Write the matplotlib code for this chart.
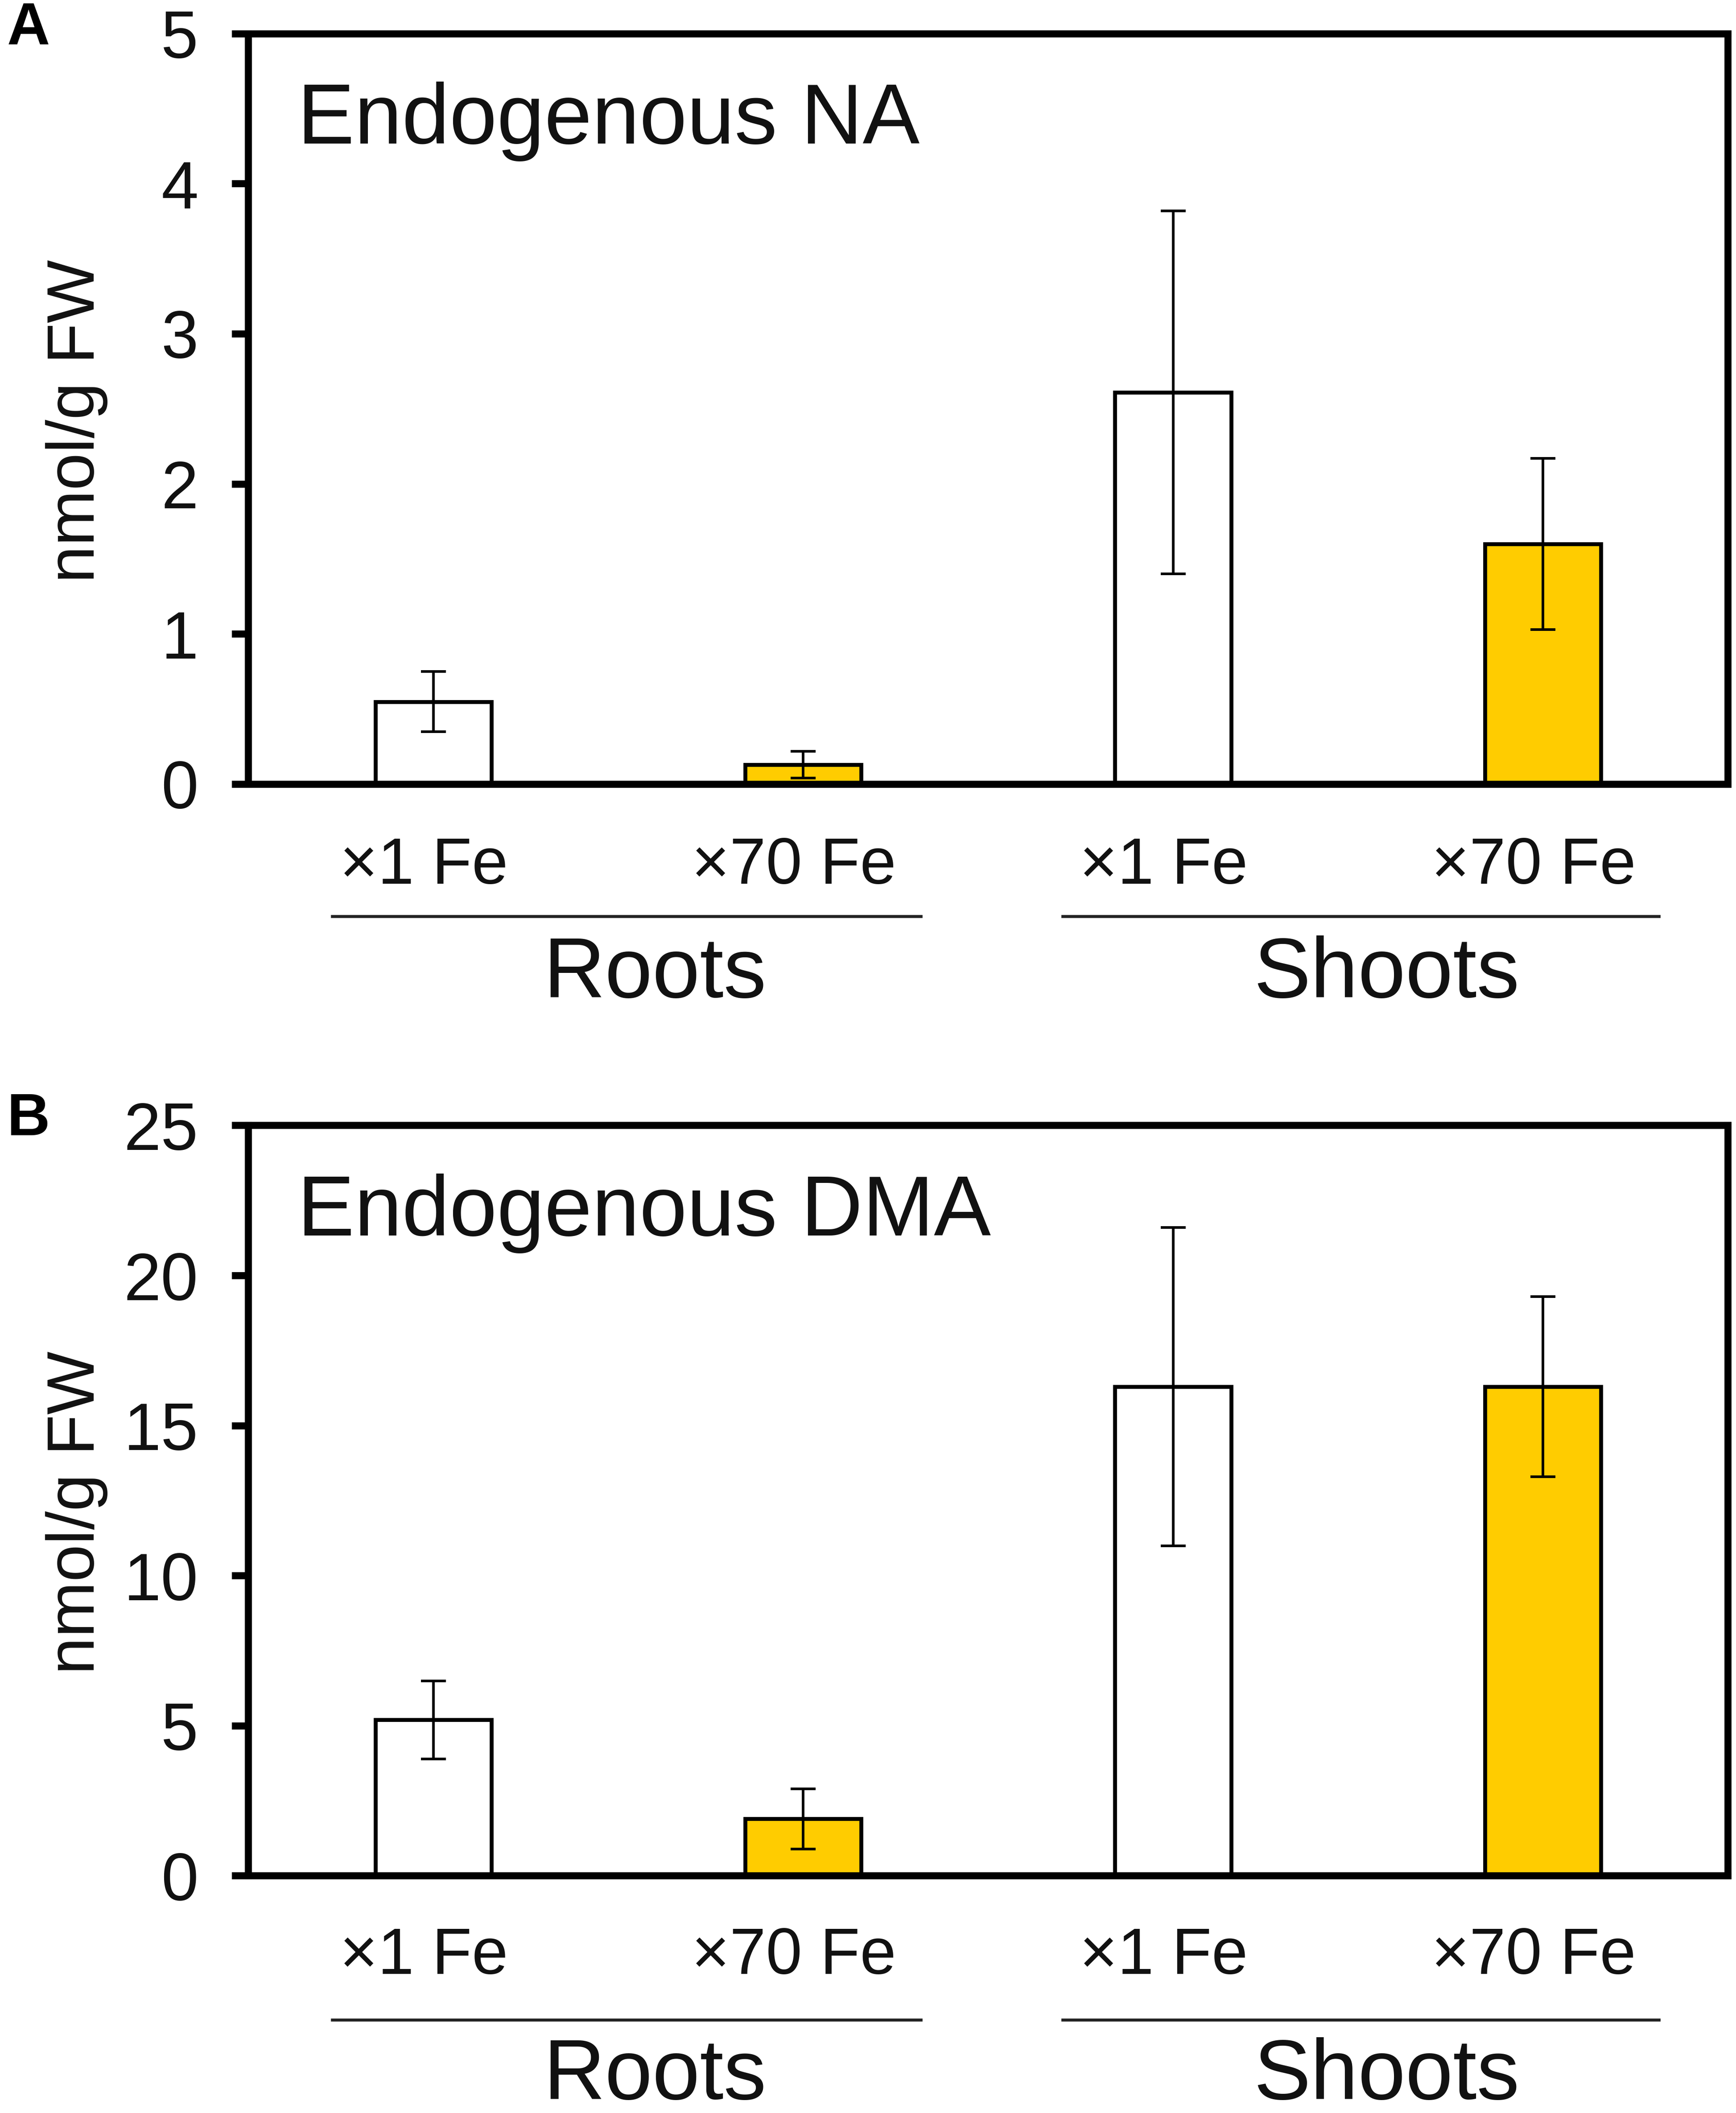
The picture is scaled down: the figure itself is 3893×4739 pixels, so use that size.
import matplotlib
matplotlib.use('Agg')
import matplotlib.pyplot as plt
import numpy as np

plt.rcParams['font.family'] = ['Liberation Sans', 'DejaVu Sans']

# data
treatments = ['×1 Fe', '×70 Fe', '×1 Fe', '×70 Fe']
groups = ['Roots', 'Shoots']
bar_colors = ['white', '#FFCC00', 'white', '#FFCC00']

na_mean = [0.55, 0.13, 2.61, 1.60]
na_err = [0.20, 0.09, 1.21, 0.57]

dma_mean = [5.2, 1.9, 16.3, 16.3]
dma_err = [1.3, 1.0, 5.3, 3.0]

TXT = '#111111'
DPI = 300
fig = plt.figure(figsize=(3893 / DPI, 4739 / DPI), dpi=DPI)

ax_a = fig.add_axes([0.1431, 0.6289, 0.8522, 0.3551])
ax_b = fig.add_axes([0.1431, 0.1122, 0.8522, 0.3551])


def panel(ax, means, errs, ymax, step, title, lab_y, line_y, grp_y):
    x = np.arange(len(means))
    ax.bar(x, means, width=0.314, color=bar_colors, edgecolor='black',
           linewidth=2.1, zorder=2)
    ax.errorbar(x, means, yerr=errs, fmt='none', ecolor='black',
                elinewidth=1.4, capsize=6.8, capthick=1.4, zorder=3)
    ax.set_xlim(-0.5, 3.5)
    ax.set_ylim(0, ymax)
    ax.set_yticks(np.arange(0, ymax + step / 2, step))
    ax.tick_params(axis='y', direction='out', length=9, width=3.8,
                   pad=18, labelsize=36, labelcolor=TXT)
    ax.set_xticks([])
    for s in ax.spines.values():
        s.set_linewidth(3.8)
    tr = ax.get_xaxis_transform()
    for xi, t in zip(x, treatments):
        ax.text(xi - 0.025, lab_y, t, transform=tr, ha='center', va='center',
                fontsize=35, color=TXT)
    for lo, hi, gx, g in [(-0.274, 1.318, 0.599, groups[0]),
                          (1.701, 3.314, 2.577, groups[1])]:
        ax.plot([lo, hi], [line_y, line_y], transform=tr, color='#222222',
                linewidth=1.6, clip_on=False)
        ax.text(gx, grp_y, g, transform=tr, ha='center', va='center',
                fontsize=46, color=TXT)
    ax.text(0.033, 0.883, title, transform=ax.transAxes, ha='left',
            va='center', fontsize=46, color=TXT)
    ax.text(-0.116, 0.484, 'nmol/g FW', transform=ax.transAxes, rotation=90,
            ha='center', va='center', fontsize=36, color=TXT)


panel(ax_a, na_mean, na_err, 5, 1, 'Endogenous NA', -0.110, -0.176, -0.255)
panel(ax_b, dma_mean, dma_err, 25, 5, 'Endogenous DMA', -0.108, -0.192, -0.268)

fig.text(0.004, 0.986, 'A', fontsize=32, fontweight='bold', ha='left',
         va='center', color='black')
fig.text(0.004, 0.470, 'B', fontsize=32, fontweight='bold', ha='left',
         va='center', color='black')

fig.savefig('out.png', dpi=DPI, facecolor='white')
